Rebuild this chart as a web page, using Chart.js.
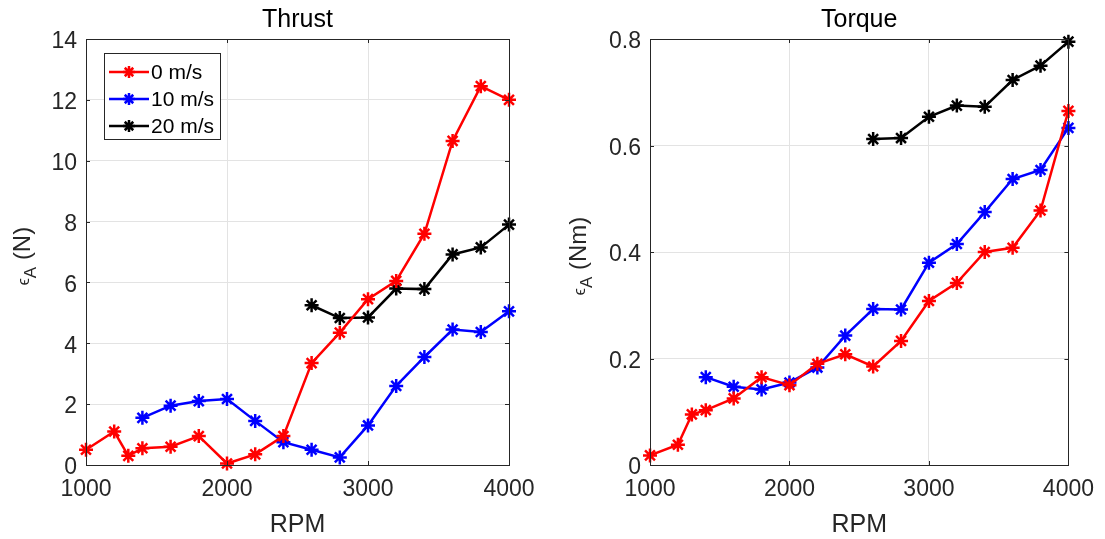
<!DOCTYPE html>
<html>
<head>
<meta charset="utf-8">
<script src="https://cdn.jsdelivr.net/npm/chart.js@4"></script>
<style>
  body { margin: 0; background: #fff; }
  canvas { position: absolute; top: 0; }
  #cThrust { left: 0; }
  #cTorque { left: 552px; }
</style>
</head>
<body>
<canvas id="cThrust" width="552" height="539"></canvas>
<canvas id="cTorque" width="553" height="539"></canvas>
<script>
// rpm values per series
var rpm0 = [1000, 1200, 1300, 1400, 1600, 1800, 2000, 2200, 2400, 2600, 2800, 3000, 3200, 3400, 3600, 3800, 4000];
var rpm10 = [1400, 1600, 1800, 2000, 2200, 2400, 2600, 2800, 3000, 3200, 3400, 3600, 3800, 4000];
var rpm20 = [2600, 2800, 3000, 3200, 3400, 3600, 3800, 4000];

// thrust error (N)
var thrust0 = [0.5, 1.1, 0.3, 0.55, 0.6, 0.95, 0.05, 0.35, 0.95, 3.35, 4.35, 5.45, 6.05, 7.6, 10.65, 12.45, 12.0];
var thrust10 = [1.55, 1.95, 2.1, 2.17, 1.45, 0.75, 0.5, 0.25, 1.3, 2.6, 3.55, 4.45, 4.37, 5.05];
var thrust20 = [5.25, 4.83, 4.85, 5.8, 5.78, 6.92, 7.15, 7.9];

// torque error (Nm)
var torque0 = [0.018, 0.038, 0.095, 0.103, 0.125, 0.165, 0.15, 0.19, 0.208, 0.185, 0.233, 0.308, 0.342, 0.4, 0.408, 0.478, 0.665];
var torque10 = [0.165, 0.147, 0.142, 0.155, 0.183, 0.243, 0.293, 0.292, 0.38, 0.415, 0.475, 0.537, 0.554, 0.633];
var torque20 = [0.612, 0.614, 0.654, 0.675, 0.673, 0.723, 0.75, 0.795];

var seriesNames = ['0 m/s', '10 m/s', '20 m/s'];
var seriesColors = ['#ff0000', '#0000ff', '#000000'];

var thrustTicks = [0, 2, 4, 6, 8, 10, 12, 14];
var torqueTicks = [0, 0.2, 0.4, 0.6, 0.8];
var rpmTicks = [1000, 2000, 3000, 4000];

var FONT = '"Liberation Sans", Arial, Helvetica, sans-serif';
var AXCOL = '#262626';
var LW = 2.5, MR = 7;

function pts(xs, ys){
	var out = [];
	for (var i = 0; i < xs.length; i++) { out.push({x: xs[i], y: ys[i]}); }
	return out;
}

function makeSet(i, xs, ys){
	return {
		label: seriesNames[i],
		data: pts(xs, ys),
		borderColor: seriesColors[i],
		backgroundColor: seriesColors[i],
		borderWidth: LW,
		pointStyle: 'star',
		pointRadius: MR,
		pointBorderWidth: LW,
		pointBackgroundColor: seriesColors[i],
		pointBorderColor: seriesColors[i],
		tension: 0,
		clip: false
	};
}

// frame, inner tick marks, titles, y label, legend
var decor = {
	id: 'decor',
	afterDatasetsDraw: function(chart, args, o){
		var ctx = chart.ctx, a = chart.chartArea;
		var xs = chart.scales.x, ys = chart.scales.y;
		ctx.save();
		ctx.strokeStyle = AXCOL;
		ctx.lineWidth = 1;
		ctx.beginPath();
		rpmTicks.forEach(function(v){
			var px = Math.round(xs.getPixelForValue(v)) + 0.5;
			ctx.moveTo(px, a.bottom); ctx.lineTo(px, a.bottom - 4);
			ctx.moveTo(px, a.top); ctx.lineTo(px, a.top + 4);
		});
		o.yTicks.forEach(function(v){
			var py = Math.round(ys.getPixelForValue(v)) + 0.5;
			ctx.moveTo(a.left, py); ctx.lineTo(a.left + 4, py);
			ctx.moveTo(a.right, py); ctx.lineTo(a.right - 4, py);
		});
		ctx.stroke();
		ctx.strokeRect(Math.round(a.left) + 0.5, Math.round(a.top) + 0.5, Math.round(a.right - a.left), Math.round(a.bottom - a.top));
		ctx.restore();
	},
	afterDraw: function(chart, args, o){
		var ctx = chart.ctx, a = chart.chartArea;
		var cx = (a.left + a.right) / 2;
		ctx.save();
		ctx.textAlign = 'center';
		ctx.textBaseline = 'alphabetic';
		ctx.fillStyle = '#000';
		ctx.font = '25px ' + FONT;
		ctx.fillText(o.title, cx, 27);
		ctx.fillStyle = AXCOL;
		ctx.fillText('RPM', cx, 532);

		// y label: epsilon with subscript A, then unit
		var segs = [
			{t: '\u03F5', f: '16px ' + FONT, dy: -1},
			{t: 'A', f: '17px ' + FONT, dy: 6},
			{t: ' (' + o.unit + ')', f: '24px ' + FONT, dy: 0}
		];
		var total = 0;
		segs.forEach(function(s){ ctx.font = s.f; s.w = ctx.measureText(s.t).width; total += s.w; });
		ctx.translate(o.labelX, (a.top + a.bottom) / 2 + 4);
		ctx.rotate(-Math.PI / 2);
		ctx.textAlign = 'left';
		var x = -total / 2;
		segs.forEach(function(s){ ctx.font = s.f; ctx.fillText(s.t, x, s.dy); x += s.w; });
		ctx.restore();

		if (o.legend) {
			ctx.save();
			ctx.fillStyle = '#fff';
			ctx.fillRect(104, 53, 116, 86);
			ctx.strokeStyle = AXCOL;
			ctx.lineWidth = 1;
			ctx.strokeRect(104.5, 53.5, 116, 86);
			var rows = [72, 99, 126];
			ctx.font = '21px ' + FONT;
			ctx.textBaseline = 'middle';
			ctx.textAlign = 'left';
			chart.data.datasets.forEach(function(ds, i){
				var y = rows[i];
				ctx.strokeStyle = ds.borderColor;
				ctx.fillStyle = ds.borderColor;
				ctx.lineWidth = LW;
				ctx.beginPath(); ctx.moveTo(109, y); ctx.lineTo(149, y); ctx.stroke();
				Chart.helpers.drawPoint(ctx, {pointStyle: 'star', radius: 6, borderWidth: LW}, 129, y);
				ctx.fillStyle = '#000';
				ctx.fillText(ds.label, 151, y + 1);
			});
			ctx.restore();
		}
	}
};

function makeChart(id, sets, yMin, yMax, yStep, yTicks, yFmt, padRight, yWidth, opts){
	var ctx = document.getElementById(id).getContext('2d');
	return new Chart(ctx, {
		type: 'line',
		data: { datasets: sets },
		options: {
			responsive: false,
			animation: false,
			layout: { padding: { left: 0, right: padRight, top: 39, bottom: 0 } },
			plugins: {
				legend: { display: false },
				tooltip: { enabled: false },
				decor: Object.assign({ yTicks: yTicks }, opts)
			},
			scales: {
				x: {
					type: 'linear',
					min: 1000, max: 4000,
					afterFit: function(s){ s.height = 74; },
					ticks: {
						stepSize: 1000,
						padding: 11,
						color: AXCOL,
						font: { family: FONT, size: 23 },
						maxRotation: 0,
						callback: function(v){ return String(v); }
					},
					grid: { color: '#e3e3e3', drawTicks: false },
					border: { display: false }
				},
				y: {
					min: yMin, max: yMax,
					afterFit: function(s){ s.width = yWidth; },
					ticks: {
						stepSize: yStep,
						padding: 9,
						labelOffset: 3,
						color: AXCOL,
						font: { family: FONT, size: 23 },
						callback: yFmt
					},
					grid: { color: '#e3e3e3', drawTicks: false },
					border: { display: false }
				}
			}
		},
		plugins: [decor]
	});
}

makeChart('cThrust',
	[makeSet(0, rpm0, thrust0), makeSet(1, rpm10, thrust10), makeSet(2, rpm20, thrust20)],
	0, 14, 2, thrustTicks,
	function(v){ return String(Math.round(v)); },
	43, 86,
	{ title: 'Thrust', unit: 'N', labelX: 30, legend: true });

makeChart('cTorque',
	[makeSet(0, rpm0, torque0), makeSet(1, rpm10, torque10), makeSet(2, rpm20, torque20)],
	0, 0.8, 0.2, torqueTicks,
	function(v){ return String(parseFloat(v.toFixed(1))); },
	32, 98,
	{ title: 'Torque', unit: 'Nm', labelX: 34, legend: false });
</script>
</body>
</html>
